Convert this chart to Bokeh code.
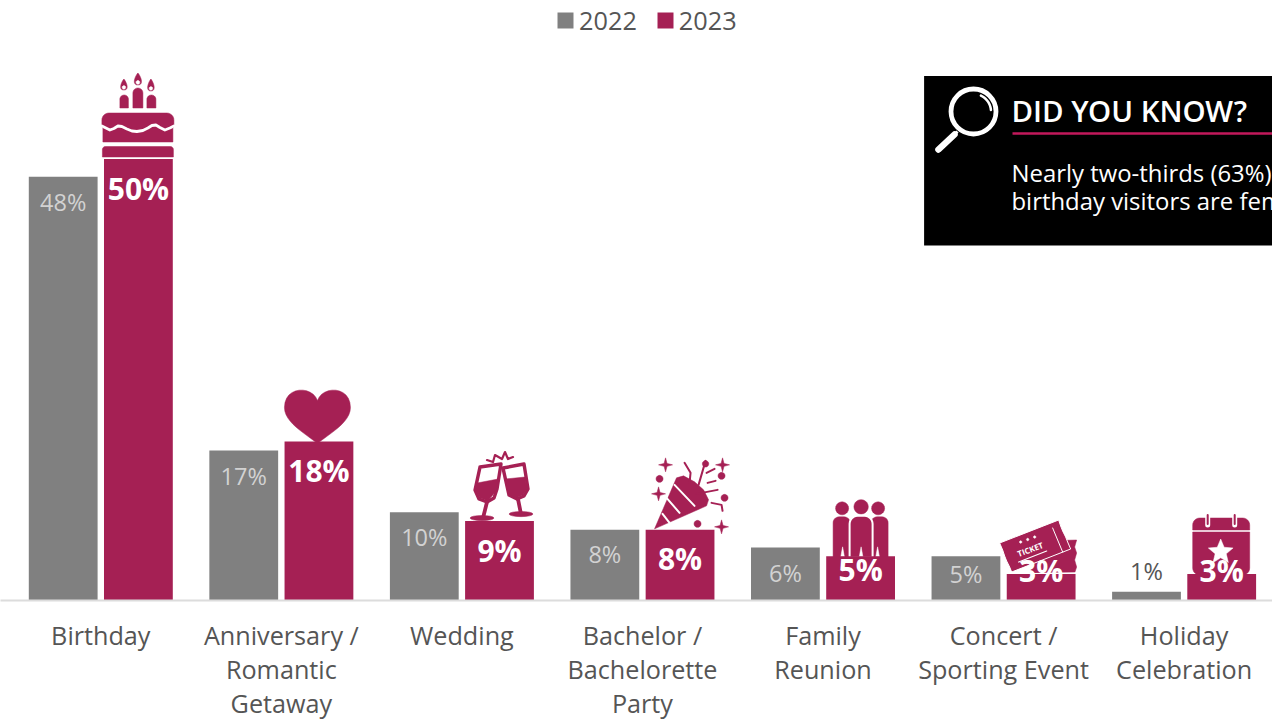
import math
from bokeh.plotting import figure
from bokeh.models import Range1d, FixedTicker, Legend, LegendItem
from bokeh.core.properties import value
from bokeh.embed import file_html
from bokeh.resources import INLINE

categories = ["Birthday", "Anniversary /\nRomantic\nGetaway", "Wedding",
              "Bachelor /\nBachelorette\nParty", "Family\nReunion",
              "Concert /\nSporting Event", "Holiday\nCelebration"]
series_names = ["2022", "2023"]
values_2022 = [48, 17, 10, 8, 6, 5, 1]
values_2023 = [50, 18, 9, 8, 5, 3, 3]
callout_title = "DID YOU KNOW?"
callout_lines = ["Nearly two-thirds (63%)", "birthday visitors are fem"]

GRAY, CRIM, BLACK = "#808080", "#A52054", "#000000"
PX_X, PX_Y = 180.55, 8.83         # pixels per category, pixels per percent
X0, BASE = 100.3, 600.0           # page position of first category, baseline
OFF, BW = 37.6 / PX_X, 68.8 / PX_X
FONT = value("Open Sans")


def dx(px):
    return (px - X0) / PX_X


def dy(py):
    return (BASE - py) / PX_Y


p = figure(frame_width=1272, frame_height=600, min_border=0, toolbar_location=None,
           output_backend="svg", y_axis_location=None, outline_line_color=None,
           x_range=Range1d(dx(0), dx(1272)), y_range=Range1d(dy(600), dy(0)),
           background_fill_color="white", border_fill_color="white")
p.grid.visible = False
ax = p.xaxis[0]
ax.ticker = FixedTicker(ticks=list(range(len(categories))))
ax.major_label_overrides = {i: c for i, c in enumerate(categories)}
ax.major_tick_line_color = None
ax.axis_line_color = "#dcdcdc"
ax.axis_line_width = 2
ax.major_label_text_font = "Open Sans"
ax.major_label_text_font_size = "25.2px"
ax.major_label_text_color = "#555555"
ax.major_label_text_line_height = 1.0
ax.major_label_standoff = 11


def arc(cx, cy, r, a0=0, a1=360, n=28, ry=None):
    ry = r if ry is None else ry
    return [(cx + r * math.cos(math.radians(a0 + (a1 - a0) * k / n)),
             cy + ry * math.sin(math.radians(a0 + (a1 - a0) * k / n))) for k in range(n + 1)]


def bez(a, b, c, d, n=12):
    out = []
    for k in range(n + 1):
        t = k / n
        u = 1 - t
        out.append((u**3 * a[0] + 3 * u * u * t * b[0] + 3 * u * t * t * c[0] + t**3 * d[0],
                    u**3 * a[1] + 3 * u * u * t * b[1] + 3 * u * t * t * c[1] + t**3 * d[1]))
    return out


def rrect(x0, y0, x1, y1, rt=0, rb=0):
    pts = []
    pts += arc(x0 + rt, y0 + rt, rt, 180, 270, 6) if rt else [(x0, y0)]
    pts += arc(x1 - rt, y0 + rt, rt, 270, 360, 6) if rt else [(x1, y0)]
    pts += arc(x1 - rb, y1 - rb, rb, 0, 90, 6) if rb else [(x1, y1)]
    pts += arc(x0 + rb, y1 - rb, rb, 90, 180, 6) if rb else [(x0, y1)]
    return pts


class Icon:
    """A pictogram sitting on a bar; shapes are local, the bar's own scale position anchors it."""

    def __init__(self, i, ox, oy):
        self.bx, self.by, self.ox, self.oy = i + OFF, values_2023[i], ox, oy

    def _t(self, pts):
        return ([self.bx + (a - self.ox) / PX_X for a, _ in pts],
                [self.by - (b - self.oy) / PX_Y for _, b in pts])

    def fill(self, pts, color=CRIM, edge=None, w=0):
        xs, ys = self._t(pts)
        p.patch(xs, ys, fill_color=color, line_color=edge or color, line_width=w or 0.5)

    def line(self, pts, color=CRIM, w=2):
        xs, ys = self._t(pts)
        p.line(xs, ys, line_color=color, line_width=w, line_cap="round", line_join="round")

    def dot(self, cx, cy, r, color=CRIM):
        self.fill(arc(cx, cy, r, n=20), color)

    def star4(self, cx, cy, r):
        pts = []
        for k in range(8):
            q = r if k % 2 == 0 else r * 0.3
            a = math.radians(45 * k)
            pts.append((cx + q * math.cos(a), cy + q * math.sin(a)))
        self.fill(pts)

    def star5(self, cx, cy, r, color):
        pts = []
        for k in range(10):
            q = r if k % 2 == 0 else r * 0.45
            a = math.radians(-90 + 36 * k)
            pts.append((cx + q * math.cos(a), cy + q * math.sin(a)))
        self.fill(pts, color)

    def flame(self, cx, top, bot, hw):
        self.fill(bez((cx, top), (cx + hw * 0.6, top + 3), (cx + hw * 1.4, bot), (cx, bot))
                  + bez((cx, bot), (cx - hw * 1.4, bot), (cx - hw * 0.6, top + 3), (cx, top)))
        self.fill(arc(cx, bot - 2.6, hw * 0.42, n=12), "white")


# ---------- pictograms ----------
c = Icon(0, 138.5, 159)
for cx, top, bot, hw, x0, x1, yt in [(124, 79, 90, 4.2, 120, 128.5, 95), (138, 73, 85, 4.6, 133, 143, 88),
                                     (151, 79, 91, 4.2, 147, 156, 95)]:
    c.flame(cx, top, bot, hw)
    c.fill(rrect(x0, yt, x1, 108, rt=(x1 - x0) / 2))
c.fill(rrect(102, 113, 174, 130, rt=7, rb=5))
c.fill([(103, 124), (173, 124), (173, 142), (103, 142)])
c.line([(102, 126), (106, 128), (110, 130), (114, 128.5), (118, 126), (122, 126.5), (127, 129), (132, 131),
        (137, 131.5), (143, 130.5), (148, 128), (152, 125.5), (156, 125), (160, 127.5), (165, 130), (170, 128), (174, 126)],
       "white", 2.8)
c.fill(rrect(102.5, 146.5, 173.5, 157, rt=3))

h = Icon(1, 318.5, 441)
h.fill(bez((317, 400), (312, 385), (284, 385), (284, 407)) + bez((284, 407), (284, 422), (305, 433), (317, 443))
       + bez((317, 443), (329, 433), (350, 422), (350, 407)) + bez((350, 407), (350, 385), (322, 385), (317, 400)))

w = Icon(2, 499.5, 520)
# left glass
w.line([(480, 466), (501, 463), (497, 488), (494, 497), (487, 501), (479, 498), (475, 489), (480, 466)], CRIM, 3.4)
w.fill([(477, 482), (498, 478), (496, 490), (488, 500), (480, 497), (476, 489)])
w.line([(487, 501), (483, 517)], CRIM, 3.8)
w.fill(arc(482, 517, 12, ry=2.6, n=16))
# right glass
w.line([(503, 467), (524, 463), (528, 488), (524, 495), (517, 498), (509, 494), (503, 467)], CRIM, 3.4)
w.fill([(505, 478), (525, 476), (527, 488), (523, 494), (516, 497), (509, 493)])
w.line([(518, 498), (521, 513)], CRIM, 3.8)
w.fill(arc(521, 513, 12, ry=2.6, n=16))
w.line([(487, 459), (493, 461), (495, 454), (502, 458), (505, 451), (508, 458), (513, 456)], CRIM, 2.2)

q = Icon(3, 680.5, 529)
q.fill([(655, 528), (677, 477), (684, 475), (695, 481), (704, 489), (709, 499), (707, 505)], CRIM)
q.line([(667, 497), (680, 512)], "white", 2)
q.line([(675, 484), (695, 505)], "white", 2)
q.line([(663, 513), (670, 522)], "white", 2)
q.line([(699, 484), (706, 460)], CRIM, 2)
q.line([(685, 462), (691, 472), (690, 482)], CRIM, 2)
q.line([(697, 493), (718, 489)], CRIM, 2)
q.line([(707, 472), (715, 468)], CRIM, 2)
q.line([(708, 482), (716, 480)], CRIM, 2)
q.line([(712, 502), (722, 504), (723, 510)], CRIM, 2)
for s in [(666, 464, 7), (723, 464, 7), (659, 493, 7), (722, 526, 7)]:
    q.star4(*s)
for d in [(660, 478, 3.5), (706, 463, 3.2), (722, 475, 3.5), (725, 497, 3.5), (698, 523, 3.5)]:
    q.dot(*d)

f = Icon(4, 860.5, 555.5)
for cx, x0, x1 in [(842, 833, 850), (878, 871, 888)]:
    f.dot(cx, 507.5, 6.5)
    f.fill(rrect(x0, 516, x1, 557, rt=6))
f.dot(861, 506, 7.2)
f.fill(rrect(849.5, 515, 872.5, 557, rt=8), CRIM, "white", 2)
for sx in (842.5, 861, 877.5):
    f.fill([(sx, 546), (sx + 1.8, 556), (sx - 1.8, 556)], "white")

t = Icon(5, 1041.5, 573)
t.fill([(1040, 540), (1077, 539), (1075, 546), (1077, 552), (1075, 559), (1077, 566), (1075, 572), (1030, 572)])
t.fill([(1000, 542), (1059, 519), (1061, 525), (1063, 530), (1066, 536), (1068, 541), (1071, 548), (1012, 571),
        (1010, 566), (1007, 560), (1005, 555), (1003, 549)], CRIM, "white", 1)
t.line([(1053, 527), (1063, 551)], "white", 1)
for d in [(1021, 541), (1028, 538.5), (1035, 536)]:
    t.dot(*d, 1.2, "white")
t.line([(1019, 561), (1047, 550)], "white", 1.2)
t.line([(1012, 573), (1078, 572)], "white", 1.6)
tx, ty = t._t([(1030.5, 548)])
p.text(tx, ty, text=["TICKET"], text_font=FONT, text_font_style="bold", text_font_size="8px",
       text_color="white", text_align="center", text_baseline="middle", angle=0.36)

k = Icon(6, 1222, 573)
k.fill(rrect(1193, 517, 1250, 529, rt=7))
k.fill(rrect(1193, 531, 1250, 574, rb=7))
for rx in (1208, 1235):
    k.line([(rx, 515), (rx, 524)], "white", 5)
    k.line([(rx, 514), (rx, 523)], CRIM, 2)
k.star5(1221, 551, 13, "white")

# ---------- bars ----------
xs = list(range(len(categories)))
r22 = p.vbar([i - OFF for i in xs], top=values_2022, bottom=0, width=BW, fill_color=GRAY, line_color=None)
r23 = p.vbar([i + OFF for i in xs], top=values_2023, bottom=0, width=BW, fill_color=CRIM, line_color=None)

# ---------- value labels ----------
drop_22 = [25, 26, 25, 24, 25, 18, -21]   # px below the bar top, -: above
drop_23 = [29, 29, 29, 29, 13, -4, -4]
for i in xs:
    col = "#d2d2d2" if values_2022[i] > 1 else "#555555"
    p.text([i - OFF], [values_2022[i] - drop_22[i] / PX_Y], text=[f"{values_2022[i]}%"], text_font=FONT,
           text_font_size="23.5px", text_color=col, text_align="center", text_baseline="middle")
    p.text([i + OFF], [values_2023[i] - drop_23[i] / PX_Y], text=[f"{values_2023[i]}%"], text_font=FONT,
           text_font_style="bold", text_font_size="30px", text_color="white", text_align="center",
           text_baseline="middle")

# ---------- callout ----------
p.quad(left=[dx(923.6)], right=[dx(1272)], top=[dy(75.6)], bottom=[dy(245)], fill_color=BLACK, line_color=None)
p.text([dx(1011)], [dy(110)], text=[callout_title], text_font=value("Open Sans SemiBold"),
       text_font_size="29.4px", text_color="white", text_baseline="middle")
p.line([dx(1012), dx(1272)], [dy(133), dy(133)], line_color="#C2185B", line_width=2.5)
for yy, s in zip((172, 200), callout_lines):
    p.text([dx(1011)], [dy(yy)], text=[s], text_font=FONT, text_font_size="23.9px", text_color="white",
           text_baseline="middle")
p.scatter([dx(973)], [dy(111)], marker="circle", size=45, fill_color=None, line_color="white", line_width=4.8)
g = arc(973, 111, 17.5, -65, -5, 10)
p.line([dx(a) for a, _ in g], [dy(b) for _, b in g], line_color="white", line_width=2.5, line_cap="round")
p.line([dx(938), dx(954)], [dy(149), dy(134)], line_color="white", line_width=6.5, line_cap="round")
p.line([dx(954), dx(957)], [dy(134), dy(131)], line_color="white", line_width=3)

legend = Legend(items=[LegendItem(label=series_names[0], renderers=[r22]),
                       LegendItem(label=series_names[1], renderers=[r23])],
                location=(555, 563), orientation="horizontal", border_line_color=None, background_fill_alpha=0,
                padding=0, margin=0, glyph_width=20, glyph_height=20, label_standoff=4, spacing=18,
                label_text_font="Open Sans", label_text_font_size="25.3px", label_text_color="#555555")
p.add_layout(legend, "center")

open("out.html", "w").write(file_html(p, INLINE))
